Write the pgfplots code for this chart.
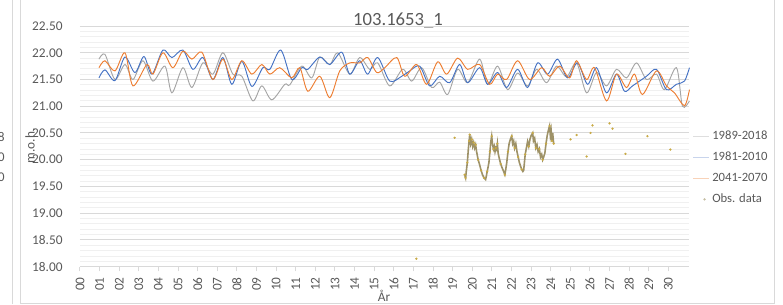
\documentclass[border=0pt]{standalone}
\usepackage{pgfplots}
\pgfplotsset{compat=1.18}
\usepackage{fontspec}
\setmainfont{Carlito}
\definecolor{cblue}{RGB}{68,114,196}
\definecolor{corange}{RGB}{237,125,49}
\definecolor{cgray}{RGB}{165,165,165}
\definecolor{cobs}{RGB}{158,146,104}
\definecolor{cobsf}{RGB}{200,170,70}
\definecolor{ctext}{RGB}{89,89,89}
\definecolor{cmaj}{RGB}{217,217,217}
\definecolor{cmin}{RGB}{240,240,240}
\definecolor{lgray}{RGB}{222,222,222}
\definecolor{lblue}{RGB}{200,212,236}
\definecolor{lorange}{RGB}{248,210,184}
\begin{document}
\begin{tikzpicture}
\useasboundingbox (0pt,0pt) rectangle (587.25pt,228pt);
% neighbour chart border and cut texts
\draw[cmaj,line width=0.75pt] (9pt,0pt) -- (9pt,228pt);
\draw[cmaj,line width=0.75pt] (15.4pt,228pt) -- (15.4pt,0.4pt) -- (581.2pt,0.4pt) -- (581.2pt,228pt);
\node[anchor=east,text=ctext,font=\fontsize{10}{12}\selectfont,inner sep=0] at (3.75pt,125.25pt) {8};
\node[anchor=east,text=ctext,font=\fontsize{10}{12}\selectfont,inner sep=0] at (3.75pt,110.25pt) {0};
\node[anchor=east,text=ctext,font=\fontsize{10}{12}\selectfont,inner sep=0] at (3.75pt,95.25pt) {0};
\node[text=ctext,font=\fontsize{14}{16}\selectfont] at (298.5pt,213pt) {103.1653\_1};
\node[text=ctext,font=\fontsize{10}{12}\selectfont,rotate=90] at (22.5pt,118.5pt) {m.o.h.};
\node[text=ctext,font=\fontsize{10}{12}\selectfont] at (288pt,6pt) {År};
\begin{axis}[
  at={(60pt,28pt)}, anchor=south west,
  width=456.75pt, height=180.5pt, scale only axis,
  xmin=0, xmax=31.05, ymin=18, ymax=22.5,
  ytick={18,18.5,19,19.5,20,20.5,21,21.5,22,22.5},
  minor y tick num=4,
  ymajorgrids, yminorgrids,
  major grid style={draw=cmaj,line width=0.75pt},
  minor grid style={draw=cmin,line width=0.6pt},
  xtick={0,1,...,30},
  xticklabels={00,01,02,03,04,05,06,07,08,09,10,11,12,13,14,15,16,17,18,19,20,21,22,23,24,25,26,27,28,29,30},
  x tick label style={rotate=90,anchor=east,xshift=-1pt},
  y tick label style={xshift=-6pt},
  /pgf/number format/assume math mode=true,
  yticklabel={\pgfmathprintnumber[fixed,fixed zerofill,precision=2]{\tick}},
  tick label style={font=\fontsize{10}{12}\selectfont,text=ctext},
  axis x line*=bottom, axis y line*=left,
  x axis line style={draw=cmaj,line width=0.75pt,-},
  y axis line style={draw=none},
  ytick style={draw=none}, minor y tick style={draw=none},
  xtick style={draw=cmaj,line width=0.75pt},
  tick align=outside, major tick length=3.5pt,
  clip=false,
  legend style={at={(0.999,0.41)},anchor=west,draw=none,fill=none,
    font=\fontsize{9.5}{11.5}\selectfont,text=ctext,row sep=3.8pt,
    /tikz/every even column/.append style={column sep=1pt}},
  legend cell align=left,
]
% 1989-2018 (gray)
\addplot[cgray,line width=0.7pt,smooth,
  legend image code/.code={\draw[draw=lgray,line width=0.75pt] (0,0) -- (0.42cm,0);}] coordinates {
(0.968,21.88)(1.274,21.97)(1.783,21.50)(2.292,21.78)(2.700,21.50)(3.209,21.85)(3.719,21.47)
(4.330,21.75)(4.686,21.25)(5.247,21.72)(5.705,21.35)(6.266,21.81)(6.775,21.60)(7.284,22.00)
(7.794,21.60)(8.252,21.56)(8.813,21.10)(9.271,21.38)(9.780,21.12)(10.443,21.41)(10.697,21.40)
(11.309,21.75)(11.818,21.53)(12.226,21.92)(12.735,21.78)(13.143,22.00)(13.754,21.60)(14.263,21.91)
(14.773,21.69)(15.180,21.81)(15.791,21.38)(16.454,21.69)(16.912,21.47)(17.421,21.72)(17.931,21.35)
(18.338,21.45)(18.746,21.22)(19.255,21.69)(19.765,21.44)(20.376,21.88)(20.784,21.41)(21.293,21.75)
(21.802,21.31)(22.312,21.62)(22.821,21.38)(23.280,21.69)(23.789,21.44)(24.298,21.75)(24.808,21.55)
(25.317,21.81)(25.827,21.25)(26.336,21.63)(26.845,21.38)(27.355,21.69)(27.864,21.53)(28.374,21.81)
(28.883,21.50)(29.392,21.60)(29.800,21.31)(30.411,21.72)(30.717,21.00)(31.073,21.10)
};
\addlegendentry{1989-2018}
% 1981-2010 (blue)
\addplot[cblue,line width=0.7pt,smooth,
  legend image code/.code={\draw[draw=lblue,line width=0.75pt] (0,0) -- (0.42cm,0);}] coordinates {
(0.968,21.53)(1.274,21.68)(1.783,21.48)(2.292,21.92)(2.802,21.63)(3.260,21.93)(3.668,21.60)
(4.228,22.05)(4.686,21.91)(5.247,22.05)(5.756,21.69)(6.266,21.91)(6.775,21.50)(7.284,21.91)
(7.743,21.41)(8.252,21.84)(8.762,21.37)(9.322,21.72)(9.679,21.69)(10.239,22.05)(10.799,21.50)
(11.309,21.72)(11.614,21.69)(12.226,21.92)(12.735,21.78)(13.346,22.01)(13.754,21.60)(14.263,21.85)
(14.671,21.60)(15.180,21.91)(15.791,21.47)(16.403,21.56)(16.811,21.66)(17.320,21.75)(17.829,21.38)
(18.338,21.56)(18.848,21.44)(19.357,21.78)(19.765,21.44)(20.376,21.72)(20.784,21.41)(21.293,21.63)
(21.751,21.35)(22.312,21.69)(22.821,21.35)(23.331,21.81)(23.840,21.60)(24.349,21.88)(24.859,21.53)
(25.368,21.81)(25.878,21.41)(26.336,21.72)(26.845,21.25)(27.355,21.60)(27.762,21.28)(28.170,21.38)
(28.883,21.56)(29.392,21.69)(29.902,21.31)(30.411,21.41)(30.819,21.47)(31.073,21.72)
};
\addlegendentry{1981-2010}
% 2041-2070 (orange)
\addplot[corange,line width=0.7pt,smooth,
  legend image code/.code={\draw[draw=lorange,line width=0.75pt] (0,0) -- (0.42cm,0);}] coordinates {
(0.968,21.72)(1.274,21.85)(1.783,21.66)(2.292,22.00)(2.700,21.38)(3.413,21.78)(3.719,21.60)
(4.228,22.00)(4.737,21.72)(5.247,22.03)(5.705,21.88)(6.215,22.01)(6.775,21.50)(7.284,21.88)
(7.743,21.50)(8.252,21.85)(8.762,21.60)(9.271,21.78)(9.679,21.60)(10.188,21.72)(10.799,21.53)
(11.207,21.72)(11.614,21.28)(12.226,21.56)(12.735,21.16)(13.244,21.66)(13.754,21.81)(14.263,21.81)
(14.671,21.91)(15.129,21.63)(15.537,21.72)(16.148,21.91)(16.556,21.56)(17.167,21.78)(17.676,21.41)
(18.237,21.83)(18.695,21.60)(19.255,21.90)(19.765,21.69)(20.376,21.78)(20.885,21.41)(21.293,21.60)
(21.751,21.50)(22.312,21.85)(22.923,21.50)(23.534,21.72)(23.942,21.56)(24.451,21.75)(24.961,21.53)
(25.317,21.85)(25.827,21.50)(26.234,21.72)(26.845,21.10)(27.355,21.60)(27.864,21.35)(28.272,21.60)
(28.679,21.22)(29.392,21.66)(29.902,21.38)(30.309,21.25)(30.819,21.01)(31.073,21.31)
};
\addlegendentry{2041-2070}
% Obs. data
\addplot[cobs,line width=1.2pt,forget plot] coordinates {
(19.61,19.72)(19.66,19.66)(19.70,19.80)(19.75,19.95)(19.80,20.20)(19.84,20.35)(19.87,20.47)
(19.92,20.30)(19.97,20.38)(20.02,20.25)(20.07,20.32)(20.12,20.22)(20.17,20.28)(20.22,20.15)
(20.30,20.00)(20.38,19.90)(20.45,19.80)(20.52,19.72)(20.60,19.66)(20.68,19.63)(20.72,19.70)
(20.76,19.78)(20.80,19.85)(20.85,19.95)(20.90,20.15)(20.95,20.35)(20.99,20.44)(21.03,20.30)
(21.08,20.20)(21.12,20.25)(21.16,20.15)(21.20,20.22)(21.24,20.19)(21.28,20.30)(21.32,20.12)
(21.38,20.02)(21.45,19.92)(21.52,19.85)(21.60,19.78)(21.66,19.72)(21.70,19.80)(21.76,19.95)
(21.82,20.15)(21.88,20.30)(21.94,20.38)(22.01,20.44)(22.06,20.30)(22.11,20.35)(22.16,20.22)
(22.22,20.30)(22.28,20.15)(22.34,20.05)(22.40,19.95)(22.46,19.88)(22.52,19.82)(22.58,19.78)
(22.62,19.80)(22.66,19.95)(22.70,20.10)(22.75,20.20)(22.82,20.34)(22.88,20.25)(22.94,20.38)
(23.00,20.45)(23.08,20.50)(23.12,20.35)(23.18,20.40)(23.24,20.22)(23.30,20.28)(23.36,20.15)
(23.42,20.20)(23.48,20.05)(23.54,20.10)(23.59,20.00)(23.64,20.05)(23.70,20.12)(23.76,20.30)
(23.82,20.45)(23.88,20.55)(23.94,20.63)(23.98,20.45)(24.02,20.55)(24.06,20.35)(24.10,20.50)(24.15,20.30)
};
\addplot[only marks,mark=*,mark size=0.65pt,draw=cobsf,fill=cobsf,
  legend image code/.code={\fill[cobs!60] (0.3cm,0) circle (0.65pt);}] coordinates {
(19.61,19.72)(19.66,19.66)(19.75,19.95)(19.84,20.35)(19.87,20.47)(19.97,20.38)(20.07,20.32)
(20.17,20.28)(20.30,20.00)(20.45,19.80)(20.60,19.66)(20.76,19.78)(20.90,20.15)(20.99,20.44)
(21.08,20.20)(21.20,20.22)(21.28,20.30)(21.45,19.92)(21.66,19.72)(21.82,20.15)(22.01,20.44)
(22.16,20.22)(22.34,20.05)(22.52,19.82)(22.70,20.10)(22.88,20.25)(23.08,20.50)(23.24,20.22)
(23.42,20.20)(23.59,20.00)(23.76,20.30)(23.94,20.63)(24.06,20.35)(24.15,20.30)
(17.15,18.15)(19.10,20.41)(25.01,20.38)(25.32,20.46)(25.83,20.06)(26.03,20.50)(26.13,20.64)
(27.00,20.68)(27.15,20.58)(27.81,20.11)(28.93,20.44)(30.10,20.19)
};
\addlegendentry{Obs. data}
\end{axis}
\end{tikzpicture}
\end{document}
